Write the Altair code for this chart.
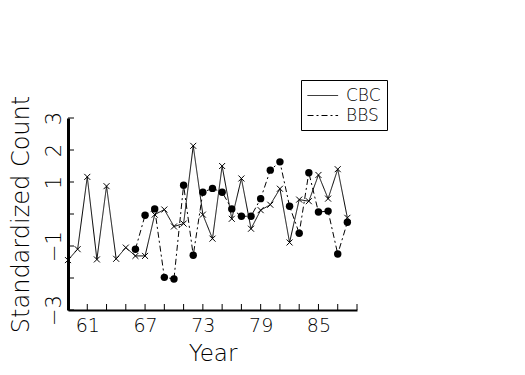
import altair as alt
import pandas as pd

years_cbc = list(range(59, 89))
cbc = [-1.44, -1.10, 1.16, -1.42, 0.87, -1.40, -1.05, -1.31, -1.31, -0.02,
       0.14, -0.39, -0.30, 2.13, -0.02, -0.77, 1.50, -0.15, 1.11, -0.46,
       0.12, 0.29, 0.79, -0.89, 0.45, 0.40, 1.22, 0.48, 1.40, -0.12]
years_bbs = list(range(66, 89))
bbs = [-1.10, -0.04, 0.16, -1.98, -2.03, 0.90, -1.29, 0.68, 0.80, 0.68,
       0.16, -0.07, -0.07, 0.48, 1.37, 1.63, 0.24, -0.60, 1.29, 0.06,
       0.09, -1.25, -0.26]
x_ticks = list(range(61, 90, 2))
y_ticks = list(range(-3, 4))
x_labels = [61, 67, 73, 79, 85]
y_labels = [3, 2, 1, -1, -3]

df = pd.concat([
    pd.DataFrame({"Year": years_cbc, "v": cbc, "s": "CBC"}),
    pd.DataFrame({"Year": years_bbs, "v": bbs, "s": "BBS"}),
])
xt = pd.DataFrame({"t": x_ticks})
yt = pd.DataFrame({"t": y_ticks})

FONT = "DejaVu Sans"
W, H = 289, 192

xs = alt.Scale(domain=[59, 89], nice=False, zero=False)
ys = alt.Scale(domain=[-3, 3], nice=False, zero=False)

xax = alt.Axis(values=x_labels, ticks=False, tickSize=0, grid=False, domainColor="black",
               domainWidth=2, labelFont=FONT, labelFontSize=19, labelColor="black",
               labelPadding=6, labelFontWeight=200, title="Year", titleFont=FONT,
               titleFontSize=23, titleFontWeight=200, titleColor="black", titlePadding=7)
yax = alt.Axis(values=y_labels, ticks=False, tickSize=0, grid=False, domainColor="black",
               domainWidth=3, labelFont=FONT, labelFontSize=21, labelColor="black",
               labelAngle=270, labelAlign="center", labelBaseline="bottom",
               labelPadding=4, labelFontWeight=200, title="Standardized Count",
               titleFont=FONT, titleFontSize=24, titleFontWeight=200,
               titleColor="black", titlePadding=10)

sdom = ["CBC", "BBS"]

lines = alt.Chart(df).mark_line(color="black", strokeWidth=1).encode(
    x=alt.X("Year:Q", scale=xs, axis=xax),
    y=alt.Y("v:Q", scale=ys, axis=yax),
    strokeDash=alt.StrokeDash("s:N", scale=alt.Scale(domain=sdom, range=[[1, 0], [6, 3, 2, 3]]),
                              legend=alt.Legend(title=None, orient="none", legendX=233, legendY=-38,
                                                symbolType="M-1,0L2.4,0", symbolSize=324,
                                                symbolStrokeColor="black", symbolStrokeWidth=1,
                                                labelFont=FONT, labelFontSize=17, labelFontWeight=200,
                                                labelColor="black", strokeColor="black",
                                                padding=6, rowPadding=2, labelOffset=20)),
)

crosses = alt.Chart(df).transform_filter(alt.datum.s == "CBC").mark_point(
    shape="M-1,-1L1,1M1,-1L-1,1", size=36, filled=False, color="black", strokeWidth=1, opacity=1
).encode(x=alt.X("Year:Q", scale=xs), y=alt.Y("v:Q", scale=ys))

dots = alt.Chart(df).transform_filter(alt.datum.s == "BBS").mark_circle(
    size=55, color="black", opacity=1
).encode(x=alt.X("Year:Q", scale=xs), y=alt.Y("v:Q", scale=ys))

xtick = alt.Chart(xt).mark_rule(color="black", strokeWidth=1).encode(
    x=alt.X("t:Q", scale=xs), y=alt.value(H), y2=alt.value(H - 6))
ytick = alt.Chart(yt).mark_rule(color="black", strokeWidth=1).encode(
    y=alt.Y("t:Q", scale=ys), x=alt.value(0), x2=alt.value(6))

chart = alt.layer(lines, crosses, dots, xtick, ytick).properties(
    width=W, height=H, autosize="none", background="white",
    view=alt.ViewBackground(stroke="transparent", strokeWidth=0),
    padding={"left": 60, "top": 110, "right": 160, "bottom": 57},
).configure_view(strokeWidth=0, stroke="transparent")

chart.save("out.html", embed_options={"renderer": "svg", "actions": False})
